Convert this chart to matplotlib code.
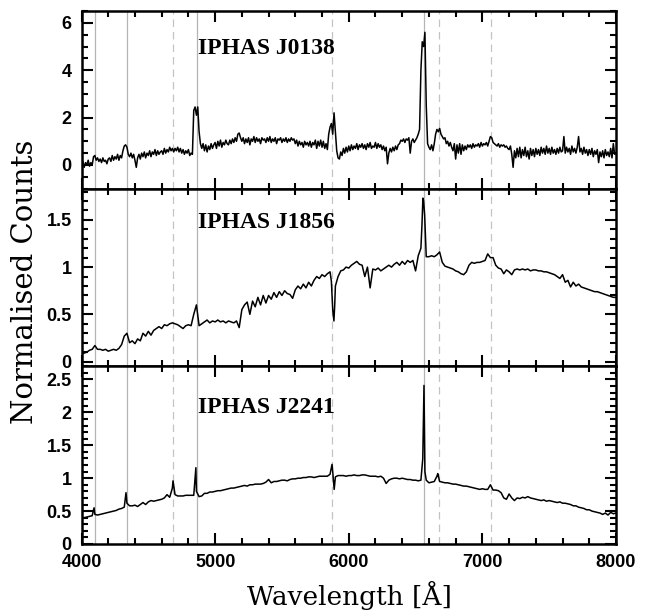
import numpy as np
import matplotlib
matplotlib.use("Agg")
import matplotlib.pyplot as plt
from matplotlib.font_manager import FontProperties
from matplotlib.ticker import MultipleLocator, FuncFormatter

# ---------------- data ----------------
wave_fine = np.arange(4000, 8001, 10)   # sampling grid of J0138 (Angstrom)
wave_grid = np.arange(4000, 8001, 20)   # sampling grid of J1856 / J2241

j0138_flux = [
    0.05, 0.15, -0.10, 0.10, 0.00, 0.20, -0.05, 0.10, 0.00, 0.35,
    0.40, 0.20, 0.30, 0.15, 0.25, 0.10, 0.30, 0.15, 0.20, 0.05,
    0.25, 0.30, 0.15, 0.40, 0.20, 0.35, 0.25, 0.45, 0.20, 0.40,
    0.30, 0.60, 0.80, 0.85, 0.75, 0.45, 0.35, 0.50, 0.30, 0.45,
    0.20, -0.10, 0.30, 0.45, 0.25, 0.50, 0.35, 0.55, 0.30, 0.50,
    0.40, 0.60, 0.35, 0.55, 0.45, 0.65, 0.40, 0.60, 0.45, 0.55,
    0.60, 0.45, 0.70, 0.50, 0.65, 0.55, 0.75, 0.60, 0.70, 0.55,
    0.70, 0.60, 0.75, 0.55, 0.70, 0.50, 0.65, 0.45, 0.60, 0.50,
    0.65, 0.40, 0.50, 0.45, 2.30, 2.45, 2.10, 2.45, 1.40, 0.90,
    0.70, 0.90, 0.60, 0.85, 0.55, 0.80, 0.65, 0.90, 0.70, 0.85,
    0.95, 0.70, 1.00, 0.80, 1.05, 0.75, 0.95, 0.85, 1.05, 0.90,
    0.85, 1.05, 0.90, 1.10, 0.95, 1.15, 1.00, 1.30, 1.35, 1.15,
    1.00, 1.15, 0.90, 1.10, 0.95, 1.15, 0.85, 1.10, 1.00, 1.20,
    0.95, 1.15, 1.00, 1.10, 0.90, 1.15, 1.05, 1.10, 0.95, 1.15,
    1.00, 1.20, 0.95, 1.10, 1.00, 1.15, 0.90, 1.10, 1.05, 1.15,
    0.95, 1.10, 1.00, 1.15, 0.95, 1.10, 1.00, 1.15, 1.05, 1.10,
    0.90, 1.05, 0.80, 1.00, 0.85, 0.95, 0.75, 1.00, 0.85, 0.95,
    0.80, 1.00, 0.75, 0.95, 0.85, 1.05, 0.70, 1.00, 0.80, 1.05,
    0.75, 1.00, 0.70, 0.90, 0.65, 1.30, 1.60, 1.75, 1.30, 2.20,
    1.40, 0.60, 0.30, 0.25, 0.55, 0.40, 0.70, 0.50, 0.75, 0.55,
    0.80, 0.60, 0.85, 0.65, 0.80, 0.70, 0.90, 0.65, 0.85, 0.75,
    0.90, 0.70, 0.85, 0.65, 0.90, 0.75, 0.95, 0.70, 0.80, 0.75,
    0.95, 0.70, 0.90, 0.75, 0.85, 0.65, 0.80, 0.60, 0.75, 0.05,
    0.50, 0.70, 0.55, 0.75, 0.60, 0.80, 0.65, 0.85, 0.90, 1.05,
    1.00, 1.10, 0.95, 1.10, 1.05, 1.15, 0.50, 1.00, 1.10, 0.95,
    1.05, 1.15, 1.30, 1.50, 4.00, 5.20, 5.00, 5.60, 2.50, 0.90,
    0.75, 0.65, 0.85, 0.60, 0.90, 1.30, 1.50, 1.40, 1.55, 1.30,
    1.20, 1.10, 1.15, 0.90, 1.00, 0.80, 0.95, 0.75, 0.60, 0.90,
    0.25, 0.85, 0.50, 0.90, 0.45, 0.85, 0.60, 0.80, 0.65, 0.85,
    0.75, 0.85, 0.70, 0.90, 0.75, 0.85, 0.80, 0.90, 0.75, 0.95,
    0.80, 0.90, 0.85, 0.95, 0.80, 1.00, 1.20, 1.15, 0.95, 0.90,
    0.85, 0.80, 0.90, 0.75, 0.85, 0.80, 0.85, 0.75, 0.80, 0.70,
    0.65, 0.80, 0.45, -0.10, 0.60, 0.30, 0.70, 0.35, 0.75, 0.30,
    0.65, 0.40, 0.75, 0.35, 0.60, 0.25, 0.70, 0.40, 0.65, 0.35,
    0.70, 0.45, 0.65, 0.40, 0.75, 0.50, 0.70, 0.45, 0.80, 0.50,
    0.70, 0.45, 0.75, 0.50, 0.65, 0.45, 0.70, 0.50, 0.75, 0.55,
    0.60, 1.20, 0.50, 0.75, 0.55, 0.70, 0.45, 0.80, 0.55, 0.70,
    0.50, 0.75, 1.20, 0.55, 0.70, 0.45, 0.75, 0.50, 0.65, 0.40,
    0.65, 0.45, 0.70, 0.35, 0.60, 0.45, 0.65, 0.10, 0.55, 0.35,
    0.60, 0.30, 0.65, 0.40, 0.55, 0.35, 0.70, 0.30, 0.90, 0.45,
    0.50,
]

j1856_flux = [
    0.09, 0.09, 0.10, 0.12, 0.13,
    0.17, 0.13, 0.13, 0.12, 0.13,
    0.11, 0.12, 0.13, 0.12, 0.14,
    0.18, 0.27, 0.30, 0.20, 0.22,
    0.19, 0.24, 0.22, 0.30, 0.27,
    0.32, 0.28, 0.33, 0.35, 0.37,
    0.35, 0.39, 0.38, 0.40, 0.41,
    0.40, 0.39, 0.37, 0.35, 0.38,
    0.39, 0.38, 0.50, 0.60, 0.38,
    0.40, 0.42, 0.44, 0.41, 0.43,
    0.42, 0.44, 0.42, 0.43, 0.41,
    0.43, 0.42, 0.41, 0.43, 0.36,
    0.55, 0.60, 0.63, 0.50, 0.64,
    0.58, 0.68, 0.60, 0.70, 0.62,
    0.70, 0.66, 0.73, 0.68, 0.74,
    0.70, 0.75, 0.72, 0.71, 0.67,
    0.76, 0.80, 0.77, 0.82, 0.78,
    0.84, 0.80, 0.86, 0.90, 0.88,
    0.92, 0.90, 0.93, 0.95, 0.55,
    0.80, 0.90, 0.96, 0.97, 1.00,
    0.99, 1.02, 1.04, 1.06, 1.03,
    1.02, 0.90, 1.00, 0.78, 0.98,
    0.97, 0.99, 0.96, 0.98, 1.00,
    1.02, 1.00, 1.03, 1.05, 1.02,
    1.06, 1.03, 1.07, 1.05, 1.07,
    0.96, 1.12, 1.20, 1.70, 1.11,
    1.11, 1.12, 1.11, 1.13, 1.16,
    1.05, 1.01, 1.00, 0.99, 0.98,
    0.96, 0.95, 0.93, 0.92, 0.95,
    1.02, 1.05, 1.04, 1.05, 1.05,
    1.06, 1.07, 1.14, 1.10, 1.10,
    1.02, 0.99, 0.98, 0.93, 0.97,
    0.95, 0.92, 0.97, 0.98, 0.97,
    0.98, 0.97, 0.98, 0.96, 0.97,
    0.97, 0.96, 0.96, 0.95, 0.95,
    0.94, 0.93, 0.92, 0.90, 0.88,
    0.92, 0.84, 0.86, 0.79, 0.84,
    0.80, 0.82, 0.79, 0.78, 0.77,
    0.76, 0.75, 0.74, 0.74, 0.73,
    0.72, 0.71, 0.70, 0.69, 0.68,
    0.68,
]
j1856_line_wave = [5870, 5889, 5895, 6548, 6555, 6568]
j1856_line_flux = [0.85, 0.43, 0.60, 1.45, 1.73, 1.55]

j2241_flux = [
    0.38, 0.40, 0.41, 0.42, 0.43,
    0.45, 0.44, 0.45, 0.46, 0.47,
    0.48, 0.49, 0.50, 0.51, 0.53,
    0.54, 0.56, 0.62, 0.58, 0.58,
    0.59, 0.57, 0.60, 0.63, 0.60,
    0.64, 0.66, 0.65, 0.66, 0.67,
    0.68, 0.70, 0.75, 0.71, 0.85,
    0.75, 0.73, 0.73, 0.73, 0.74,
    0.74, 0.74, 0.74, 0.80, 0.72,
    0.73, 0.77, 0.77, 0.79, 0.79,
    0.80, 0.81, 0.81, 0.82, 0.83,
    0.84, 0.85, 0.85, 0.86, 0.87,
    0.88, 0.89, 0.88, 0.90, 0.90,
    0.91, 0.91, 0.91, 0.92, 0.94,
    0.98, 0.93, 0.95, 0.95, 0.96,
    0.97, 0.97, 0.96, 0.98, 0.99,
    0.99, 1.00, 1.00, 1.01, 1.01,
    1.02, 1.02, 1.01, 1.02, 1.03,
    1.03, 1.03, 1.03, 1.06, 1.10,
    1.02, 1.04, 1.04, 1.04, 1.03,
    1.04, 1.04, 1.05, 1.04, 1.04,
    1.05, 1.05, 1.04, 1.03, 1.03,
    1.03, 1.02, 1.03, 1.00, 0.92,
    0.97, 0.99, 1.00, 1.00, 0.99,
    1.00, 0.99, 0.98, 0.98, 0.97,
    0.97, 0.96, 0.97, 2.00, 0.97,
    0.93, 0.94, 0.95, 1.03, 0.95,
    0.94, 0.93, 0.93, 0.92, 0.91,
    0.91, 0.90, 0.89, 0.88, 0.88,
    0.87, 0.86, 0.85, 0.84, 0.83,
    0.84, 0.83, 0.83, 0.90, 0.82,
    0.82, 0.81, 0.78, 0.70, 0.68,
    0.76, 0.70, 0.66, 0.70, 0.69,
    0.71, 0.70, 0.72, 0.70, 0.69,
    0.68, 0.67, 0.66, 0.67, 0.65,
    0.66, 0.65, 0.64, 0.63, 0.64,
    0.62, 0.62, 0.61, 0.60, 0.58,
    0.58, 0.56, 0.55, 0.54, 0.52,
    0.52, 0.50, 0.49, 0.48, 0.47,
    0.45, 0.47, 0.44, 0.48, 0.46,
    0.47,
]
j2241_line_wave = [4094, 4333, 4685, 4856, 5875, 5891, 6554, 6563, 6570, 6666]
j2241_line_flux = [0.55, 0.78, 0.96, 1.16, 1.21, 0.83, 1.30, 2.41, 1.10, 1.07]

names = ["IPHAS J0138", "IPHAS J1856", "IPHAS J2241"]
solid_lines = [4101, 4340, 4861, 6563]
dashed_lines = [4686, 5876, 6678, 7065]

# ---------------- figure ----------------
fig = plt.figure(figsize=(6.49, 6.11), dpi=100)
W, H = 649, 611
left, right = 81.5, 616
top, bottom = 11, 544
ph = (bottom - top) / 3.0

panels = [
    (wave_fine, j0138_flux, [], [], (-1.0, 6.5), 2.0, 0.5, 0.79),
    (wave_grid, j1856_flux, j1856_line_wave, j1856_line_flux, (-0.05, 1.83), 0.5, 0.1, 0.81),
    (wave_grid, j2241_flux, j2241_line_wave, j2241_line_flux, (0.0, 2.7), 0.5, 0.1, 0.77),
]

tickfp = FontProperties(family="Liberation Sans", weight="bold", size=13)
fmt = FuncFormatter(lambda v, p: "%g" % round(v, 3))

for i, (grid, flux, lw_, lf_, ylim, maj, mnr, ty) in enumerate(panels):
    y0 = 1 - (top + (i + 1) * ph) / H
    ax = fig.add_axes([left / W, y0, (right - left) / W, ph / H])
    w = np.concatenate([grid, np.array(lw_, dtype=float)])
    f = np.concatenate([np.array(flux, dtype=float), np.array(lf_, dtype=float)])
    order = np.argsort(w, kind="stable")
    for x in solid_lines:
        ax.axvline(x, color="#b4b4b4", lw=0.9, zorder=1)
    for x in dashed_lines:
        ax.axvline(x, color="#c4c4c4", lw=0.9, ls=(0, (6, 4)), zorder=1)
    ax.plot(w[order], f[order], color="black", lw=1.1, zorder=3)
    ax.set_xlim(4000, 8000)
    ax.set_ylim(*ylim)
    ax.xaxis.set_major_locator(MultipleLocator(1000))
    ax.xaxis.set_minor_locator(MultipleLocator(200))
    ax.yaxis.set_major_locator(MultipleLocator(maj))
    ax.yaxis.set_minor_locator(MultipleLocator(mnr))
    ax.yaxis.set_major_formatter(fmt)
    ax.tick_params(which="both", direction="in", top=True, right=True, width=1.5)
    ax.tick_params(which="major", length=8, pad=7)
    ax.tick_params(which="minor", length=4)
    for s in ax.spines.values():
        s.set_linewidth(1.8)
    for lab in ax.get_yticklabels():
        lab.set_fontproperties(tickfp)
    if i < 2:
        ax.tick_params(labelbottom=False)
    else:
        ax.xaxis.set_major_formatter(fmt)
        for lab in ax.get_xticklabels():
            lab.set_fontproperties(tickfp)
    ax.text(0.218, ty, names[i], transform=ax.transAxes, family="Liberation Serif",
            weight="bold", fontsize=17, va="center", ha="left", zorder=4)

fig.text(25 / W, 1 - 282 / H, "Normalised Counts", rotation=90, family="DejaVu Serif",
         fontsize=21, va="center", ha="center")
fig.text(349 / W, 1 - 595 / H, "Wavelength [Å]", family="DejaVu Serif",
         fontsize=19, va="center", ha="center")

fig.savefig("out.png", dpi=100)
